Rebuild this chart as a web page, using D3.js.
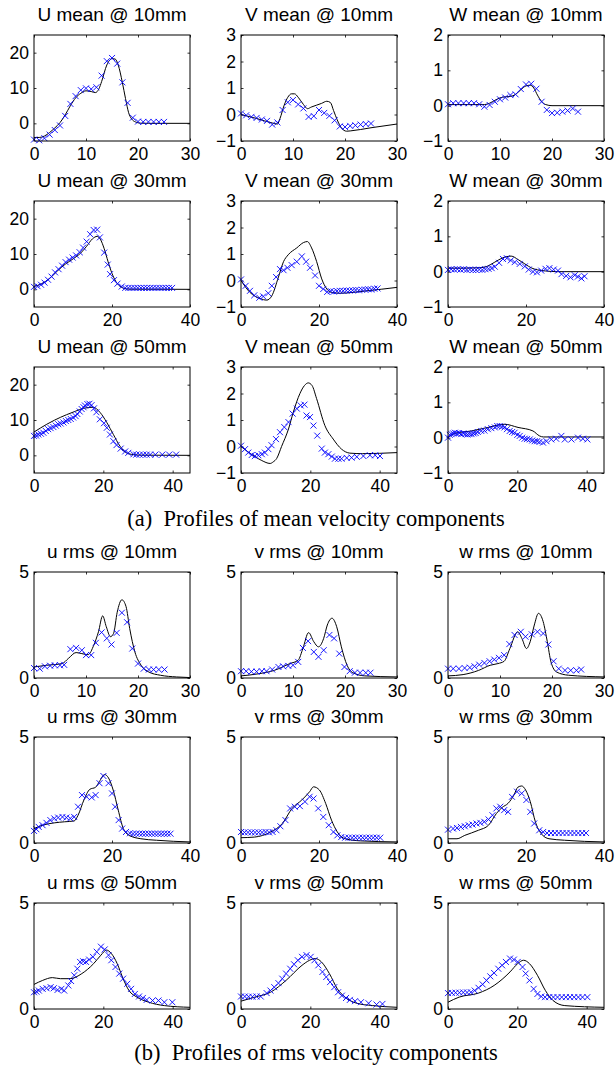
<!DOCTYPE html>
<html><head><meta charset="utf-8">
<script src="https://cdn.jsdelivr.net/npm/d3@7"></script>
<style>body{margin:0;background:#fff}svg{display:block}</style>
</head><body>
<script>
// ---------- data: [x (mm), value] ----------
const lineU10=[[0,-4],[1,-4],[2,-3.6],[3,-2.6],[4,-1.3],[5,0.2],[6,2.4],[7,5],[8,7.2],[9,8.5],[10,9.2],[11,9.0],[11.8,8.7],[12.5,9.8],[13,11.8],[14,16.5],[15,18.3],[15.6,18.2],[16.2,16.5],[17,11.5],[17.6,7],[18.2,3],[18.8,1.2],[19.5,0.4],[20.5,0.05],[22,0],[30,0]];
const expU10=[[0,-4.6],[1,-4.8],[2,-4.2],[3,-3.2],[4,-1.9],[5,-0.6],[6,2.1],[7,5.5],[8,7.7],[9,9.4],[10,9.9],[11,9.7],[12,10.2],[13,13.5],[14,17.6],[15,18.5],[16,16.9],[17,11.6],[18,5.8],[19,1.6],[20,0.5],[21,0.4],[22,0.4],[23,0.4],[24,0.4],[25,0.4]];
const lineV10=[[0,0],[3,-0.15],[6,-0.32],[7,-0.36],[7.5,-0.15],[8.3,0.35],[9,0.65],[9.7,0.78],[10.3,0.78],[11,0.65],[12,0.38],[12.8,0.22],[13.5,0.28],[14.5,0.35],[15.5,0.42],[16.5,0.5],[17.2,0.45],[17.8,0.15],[18.5,-0.2],[19.3,-0.5],[20.3,-0.63],[21,-0.62],[25,-0.5],[30,-0.36]];
const expV10=[[0,0.04],[1,-0.03],[2,-0.09],[3,-0.13],[4,-0.19],[5,-0.24],[6,-0.38],[7,-0.3],[8,0.17],[9,0.46],[10,0.55],[11,0.38],[12,0.23],[13,-0.09],[14,-0.06],[15,0.17],[16,0.06],[17,-0.05],[18,-0.22],[19,-0.45],[20,-0.47],[21,-0.43],[22,-0.41],[23,-0.38],[24,-0.36],[25,-0.34]];
const lineW10=[[0,0.03],[4,0.03],[7,0.03],[8,0.07],[9,0.15],[10,0.22],[11,0.25],[12,0.26],[13,0.32],[14,0.45],[15,0.56],[15.8,0.58],[16.5,0.5],[17.2,0.3],[18,0.12],[18.8,0.03],[20,0],[30,0]];
const expW10=[[0,0.04],[1,0.07],[2,0.07],[3,0.07],[4,0.07],[5,0.07],[6,0.04],[7,-0.03],[8,0.02],[9,0.11],[10,0.18],[11,0.23],[12,0.3],[13,0.32],[14,0.47],[15,0.6],[16,0.62],[17,0.48],[18,0.11],[19,-0.12],[20,-0.21],[21,-0.2],[22,-0.17],[23,-0.14],[24,-0.08],[25,-0.17]];

const lineU30=[[0,0.8],[2,1.6],[4,3.1],[6,5.2],[8,7.1],[10,8.6],[12,10.3],[13.5,12.2],[15,14.3],[16.2,15.0],[17,14.2],[18,11.5],[19,7.8],[20,4.5],[21,2.2],[22,0.9],[23,0.3],[24.5,0.05],[40,0]];
const expU30=[[0,0.7],[0.9,0.9],[1.8,1.3],[2.7,1.9],[3.6,2.7],[4.5,3.6],[5.4,4.8],[6.3,5.7],[7.2,6.7],[8.1,7.7],[9,8.4],[9.9,9.0],[10.8,9.6],[11.7,10.5],[12.6,11.8],[13.5,13.5],[14.4,15.6],[15.3,16.8],[16.2,16.9],[16.9,14.7],[18,10.4],[18.9,7.0],[19.5,4.3],[20.5,2.6],[21.4,1.6],[22.5,0.8],[23.4,0.4],[24.2,0.4],[25,0.4],[25.8,0.4],[26.6,0.4],[27.4,0.4],[28.2,0.4],[29,0.4],[29.8,0.4],[30.6,0.4],[31.4,0.4],[32.2,0.4],[33,0.4],[33.8,0.4],[34.6,0.4],[35.4,0.4]];
const lineV30=[[0,0],[2.3,-0.45],[4.9,-0.68],[6.6,-0.74],[7.9,-0.58],[9.6,0.13],[10.9,0.71],[12.1,0.97],[14.3,1.23],[16,1.43],[17,1.47],[18.1,1.23],[19.4,0.71],[20.7,0.06],[22,-0.32],[23.2,-0.45],[25.4,-0.48],[32.2,-0.39],[40,-0.26]];
const expV30=[[0,0.04],[1.2,-0.2],[2.3,-0.39],[3.4,-0.56],[4.7,-0.65],[5.7,-0.6],[7,-0.48],[7.9,-0.2],[9,0.13],[10,0.43],[10.9,0.39],[11.9,0.48],[13,0.58],[14.3,0.71],[15.6,0.91],[16.7,0.71],[17.7,0.48],[19,0.19],[20,-0.2],[21.1,-0.32],[22.1,-0.43],[23,-0.4],[23.8,-0.42],[24.6,-0.4],[25.4,-0.39],[26.2,-0.39],[27,-0.38],[27.8,-0.38],[28.6,-0.37],[29.4,-0.36],[30.2,-0.37],[31,-0.35],[31.8,-0.34],[32.6,-0.33],[33.4,-0.34],[34.2,-0.31],[35,-0.3]];
const lineW30=[[0,0.1],[4,0.1],[8,0.11],[10,0.15],[12,0.27],[14,0.39],[16.2,0.44],[18,0.34],[19.7,0.22],[21.5,0.1],[23,0.05],[25,0.02],[28,0],[40,0]];
const expW30=[[0,0.05],[0.8,0.07],[1.6,0.06],[2.4,0.07],[3.2,0.06],[4,0.07],[4.8,0.05],[5.6,0.06],[6.4,0.05],[7.2,0.05],[8,0.06],[8.8,0.05],[9.6,0.07],[10.4,0.08],[11.2,0.1],[12,0.14],[13.1,0.25],[14.1,0.36],[15.1,0.38],[16.1,0.32],[17.1,0.27],[18.4,0.22],[19.7,0.15],[20.7,0.06],[21.8,0],[22.8,-0.02],[23.9,0.03],[25,0.08],[26,0.1],[27.1,0.06],[28.2,0.03],[29.1,-0.07],[30.3,-0.12],[31.4,-0.16],[32.5,-0.1],[33.3,-0.14],[34.2,-0.19],[35,-0.13]];

const lineU50=[[0,6.6],[3.7,8.8],[6,10],[9.4,11.5],[12,12.5],[14.2,13.3],[17.1,13.6],[19,12.2],[21,9.3],[22.9,5.9],[24.8,2.6],[26.7,0.7],[28.7,0.2],[31,0.05],[45,0]];
const expU50=[[0,5.5],[0.6,5.6],[1.25,5.9],[2,6.1],[2.7,6.4],[3.4,6.9],[4.1,7.4],[4.8,7.7],[5.6,8],[6.3,8.4],[7,8.8],[7.7,9.0],[8.5,9.3],[9.2,9.7],[9.9,10],[10.6,10.3],[11.3,10.7],[12,11.1],[12.5,11.7],[13.2,12.4],[13.75,13.1],[14.3,13.6],[14.7,14.1],[15.4,14.5],[16,14.6],[16.6,14.2],[17.3,13.3],[18,12.2],[19,10.2],[20.2,9.1],[21,7.8],[21.9,5.9],[22.9,4.0],[23.8,2.9],[25,1.9],[26.3,1.1],[27.2,0.7],[28.7,0.3],[29.5,0.2],[30.5,0.2],[31.5,0.2],[32.5,0.2],[33.5,0.2],[35,0.2],[37,0.2],[39,0.2],[41,0.2]];
const lineV50=[[0,0],[2,-0.2],[4,-0.38],[6,-0.53],[8.4,-0.64],[9.3,-0.58],[10.3,-0.45],[11.7,0],[13.7,0.66],[15.1,1.3],[17,2.0],[18.3,2.3],[19.4,2.4],[20.5,2.3],[21.8,1.81],[24.2,0.79],[26.6,0.28],[29,-0.1],[31.4,-0.25],[35,-0.27],[45,-0.23]];
const expV50=[[0,0.03],[1.15,-0.1],[2.1,-0.23],[3.1,-0.32],[4,-0.36],[5,-0.33],[6,-0.29],[6.9,-0.23],[7.9,-0.1],[8.8,0.05],[10.1,0.28],[11.25,0.54],[12.5,0.73],[13.7,0.92],[14.9,1.24],[16.1,1.43],[17.2,1.55],[18.3,1.58],[18.9,1.17],[19.9,1.11],[20.9,0.79],[22,0.41],[23.3,-0.08],[24.2,-0.23],[25.2,-0.29],[26.2,-0.38],[27.1,-0.46],[28.1,-0.46],[29,-0.46],[30.5,-0.43],[31.9,-0.42],[33.4,-0.39],[35.3,-0.36],[37.2,-0.33],[38.7,-0.33],[40.1,-0.36]];
const lineW50=[[0,0],[1.9,0.12],[6.7,0.19],[11.5,0.29],[16.3,0.38],[20.2,0.29],[24.5,0.19],[26.4,0.05],[27.5,0.02],[45,0.02]];
const expW50=[[0,0],[0.5,0.08],[1,0.1],[1.5,0.12],[2,0.14],[2.6,0.12],[3.2,0.13],[3.8,0.1],[4.4,0.12],[5,0.1],[5.6,0.09],[6.2,0.1],[6.8,0.1],[7.4,0.12],[8,0.13],[8.6,0.16],[9.6,0.19],[10.5,0.2],[11.5,0.24],[12.5,0.27],[13.5,0.29],[14.2,0.33],[14.9,0.33],[15.6,0.31],[16.3,0.29],[17,0.24],[17.8,0.19],[18.5,0.16],[19.2,0.14],[20,0.08],[20.7,0.05],[21.4,0.0],[22.1,-0.03],[22.8,-0.04],[23.6,-0.05],[24.3,-0.08],[25,-0.1],[25.7,-0.1],[26.4,-0.12],[27.4,-0.14],[28.4,-0.1],[29.8,-0.05],[31.2,-0.03],[32.7,0.05],[33.7,-0.05],[35.6,-0.05],[37.5,0],[38.9,-0.03],[40.2,-0.05]];

const lineUr10=[[0,0.52],[2.4,0.6],[5.4,0.68],[6.6,0.92],[8.1,1.2],[9.2,1.15],[10.4,1.1],[11.5,1.55],[12.4,2.18],[13.2,2.93],[13.9,2.42],[14.7,1.95],[15.3,2.1],[16,3.1],[16.9,3.69],[17.7,3.37],[18.4,2.34],[19.4,1.23],[20.6,0.6],[22.1,0.28],[24.3,0.13],[27.4,0.05],[30,0.02]];
const expUr10=[[0,0.47],[1.1,0.44],[2.1,0.55],[3.1,0.58],[4,0.6],[5,0.6],[5.8,0.62],[7,1.36],[8.1,1.42],[9.2,1.31],[10,1.08],[11,1.08],[11.9,1.66],[13,2.15],[14,1.87],[14.9,1.58],[15.9,2.13],[16.9,3.08],[17.9,2.63],[18.9,1.39],[20,0.68],[21.1,0.44],[22.1,0.4],[23,0.4],[24,0.4],[25.1,0.4]];
const lineVr10=[[0,0.1],[3.4,0.2],[6.4,0.36],[9.4,0.68],[11,0.84],[11.9,1.39],[13,2.14],[14,1.71],[14.9,1.47],[15.9,1.87],[16.6,2.5],[17.5,2.82],[18.4,2.42],[19.3,1.47],[20.4,0.6],[21.5,0.25],[23.8,0.1],[30,0.05]];
const expVr10=[[0,0.32],[1,0.32],[2,0.3],[3,0.3],[4,0.32],[4.9,0.32],[6,0.4],[7.2,0.52],[8.1,0.55],[9.1,0.57],[10,0.6],[11,0.76],[11.9,1.42],[12.9,1.74],[14,1.23],[14.9,1.0],[15.9,1.31],[17,2.03],[17.9,1.87],[18.9,1.15],[19.9,0.52],[20.9,0.32],[21.9,0.25],[22.9,0.25],[24,0.25],[24.9,0.25]];
const lineWr10=[[0,0.1],[2.9,0.16],[5.9,0.36],[8.1,0.6],[9.6,0.68],[10.8,0.79],[11.9,1.39],[13.4,2.18],[14.2,1.87],[15.1,1.39],[15.8,1.71],[16.6,2.5],[17.4,3.05],[18.3,2.66],[19.1,1.71],[19.8,0.76],[20.9,0.28],[23.2,0.13],[30,0.05]];
const expWr10=[[0,0.44],[1,0.44],[2.1,0.44],[3.2,0.47],[4.2,0.49],[5.1,0.55],[6,0.63],[7,0.71],[8,0.79],[8.9,0.87],[9.8,0.95],[10.8,1.08],[11.8,1.6],[12.8,2.03],[14,2.18],[14.9,1.95],[16.1,2.06],[17.2,2.18],[18.3,2.1],[19.3,1.58],[20.3,0.79],[21.3,0.44],[22.5,0.36],[23.6,0.36],[24.7,0.36],[25.6,0.4]];

const lineUr30=[[0,0.68],[2.2,0.84],[5.2,0.95],[7.8,1.0],[10.3,1.04],[11.3,1.31],[12.8,2.03],[14.3,2.53],[15.8,2.63],[16.8,2.91],[18.1,3.23],[19.1,3.07],[20.3,2.5],[21.6,1.55],[22.9,0.68],[24.4,0.36],[27.4,0.2],[31.4,0.13],[40,0.05]];
const expUr30=[[0,0.57],[0.6,0.65],[1.2,0.76],[2.2,0.84],[3.2,0.95],[4.2,1.08],[5.2,1.16],[6.2,1.2],[7.3,1.23],[8.3,1.2],[9.3,1.16],[10.3,1.23],[11.3,1.71],[12.3,2.26],[13.5,2.18],[14.8,2.15],[15.8,2.26],[16.8,2.82],[17.8,3.16],[19.1,2.82],[20,2.34],[20.8,1.71],[21.7,1.08],[22.6,0.68],[23.6,0.52],[24.6,0.46],[25.4,0.44],[26.2,0.44],[27,0.44],[27.8,0.44],[28.6,0.44],[29.4,0.44],[30.2,0.44],[31,0.44],[31.8,0.44],[32.6,0.44],[33.4,0.44],[34.2,0.44],[35,0.44]];
const lineVr30=[[0,0.25],[3.5,0.28],[7.6,0.52],[10.6,0.92],[13.1,1.63],[15.6,2.03],[17.6,2.42],[18.6,2.65],[20.1,2.5],[21.7,1.87],[23.2,1.08],[24.7,0.52],[26.7,0.2],[30.7,0.1],[40,0.05]];
const expVr30=[[0,0.52],[0.9,0.5],[1.8,0.5],[2.7,0.5],[3.6,0.5],[4.5,0.5],[5.4,0.5],[6.3,0.52],[7.2,0.5],[8.1,0.52],[9.1,0.6],[10.1,0.79],[11.4,1.08],[12.6,1.63],[13.8,1.71],[15.1,1.74],[16.4,1.95],[17.6,2.18],[18.6,2.1],[19.8,1.63],[21.1,1.23],[22.5,0.84],[23.7,0.52],[24.7,0.36],[25.7,0.28],[26.7,0.25],[27.6,0.25],[28.5,0.25],[29.4,0.25],[30.3,0.25],[31.2,0.25],[32.1,0.25],[33,0.25],[33.9,0.25],[34.8,0.25],[35.7,0.25]];
const lineWr30=[[0,0.2],[2.3,0.2],[4.3,0.36],[7.8,0.6],[10.4,0.84],[12.4,1.39],[13.9,1.68],[15.4,1.87],[16.9,2.26],[17.9,2.63],[18.9,2.69],[19.9,2.5],[21.1,1.95],[22.4,1.0],[23.9,0.44],[25.9,0.2],[29.9,0.13],[40,0.05]];
const expWr30=[[0,0.63],[1.3,0.68],[2.3,0.71],[3.3,0.76],[4.3,0.79],[5.3,0.84],[6.3,0.87],[7.3,0.92],[8.3,0.95],[9.3,1.0],[10.4,1.11],[11.4,1.31],[12.4,1.63],[13.4,1.71],[14.4,1.55],[15.4,1.47],[16.4,2.18],[17.7,2.42],[18.9,2.34],[20.1,2.03],[21.1,1.47],[22.1,0.92],[23.4,0.6],[24.4,0.52],[25.4,0.47],[26.4,0.47],[27.4,0.47],[28.4,0.47],[29.4,0.47],[30.4,0.47],[31.4,0.47],[32.4,0.47],[33.4,0.47],[34.4,0.47],[35.4,0.47]];

const lineUr50=[[0,1.16],[2.5,1.35],[5.3,1.48],[7.6,1.43],[10.4,1.43],[13.8,1.67],[17.2,2.14],[19.3,2.54],[20.9,2.78],[22.3,2.62],[24,2.14],[25.7,1.43],[27.4,0.87],[29.7,0.56],[33.1,0.32],[37.6,0.16],[45,0.08]];
const expUr50=[[0,0.79],[0.7,0.82],[1.4,0.87],[2.5,0.95],[3.6,0.98],[4.8,1.03],[5.7,0.98],[6.8,0.9],[7.9,0.95],[8.7,0.87],[9.9,1.11],[10.7,1.32],[11.6,1.59],[12.5,1.9],[13.3,2.22],[14.2,2.25],[15,2.22],[15.9,2.33],[17,2.46],[18.1,2.7],[19.3,2.94],[20.4,2.81],[21.5,2.54],[22.3,2.3],[23.5,1.98],[24.6,1.67],[25.7,1.43],[26.9,1.19],[28,0.95],[29.1,0.71],[30.3,0.59],[31.4,0.52],[32.5,0.43],[34.2,0.4],[35.9,0.4],[37.6,0.32],[39.9,0.32]];
const lineVr50=[[0,0.37],[4,0.56],[8.5,0.79],[13,1.35],[17.6,2.06],[19.8,2.3],[21.5,2.38],[23.2,2.22],[25.5,1.67],[27.8,0.95],[30,0.56],[33.4,0.27],[38,0.16],[45,0.08]];
const expVr50=[[0,0.59],[1.1,0.59],[2.2,0.58],[3.3,0.58],[4.5,0.59],[5.7,0.59],[7.4,0.75],[8.5,0.87],[9.6,1.03],[10.8,1.22],[11.9,1.43],[13,1.67],[14.2,1.9],[15.3,2.11],[16.4,2.3],[17.6,2.46],[18.9,2.54],[20.1,2.46],[21.2,2.3],[22.3,2.06],[23.5,1.75],[24.6,1.51],[25.7,1.27],[26.9,1.03],[28,0.79],[29.1,0.63],[30.3,0.52],[31.4,0.43],[32.9,0.37],[34.6,0.32],[36.8,0.27],[39.1,0.21],[40.8,0.24]];
const lineWr50=[[0,0.32],[3.2,0.56],[8.8,0.75],[13.3,1.11],[17.9,1.75],[20.1,2.14],[21.8,2.3],[23.5,2.14],[25.8,1.59],[28.1,0.87],[30.3,0.4],[33.7,0.16],[45,0.08]];
const expWr50=[[0,0.75],[1.1,0.76],[2.2,0.77],[3.3,0.77],[4.4,0.78],[5.5,0.78],[6.6,0.79],[7.7,0.87],[8.8,1.0],[10,1.16],[11.1,1.35],[12.2,1.54],[13.3,1.7],[14.5,1.9],[15.6,2.06],[16.7,2.22],[17.9,2.38],[19,2.33],[20.1,2.22],[21.5,1.98],[22.4,1.67],[23.5,1.35],[24.7,0.95],[25.8,0.71],[26.9,0.59],[28,0.56],[29.2,0.56],[30.4,0.56],[31.6,0.56],[32.8,0.56],[34,0.56],[35.2,0.56],[36.4,0.56],[37.6,0.56],[38.8,0.56],[40.2,0.56]];

// ---------- tick labels & domains ----------
const xDom30=[0,30], xTicks30=[0,10,20,30];
const xDom40=[0,40], xTicks40=[0,20,40];
const xDom45=[0,45], xTicks45=[0,20,40];
const yDomU=[-5,25], yTicksU=[0,10,20];
const yDomV=[-1,3], yTicksV=[-1,0,1,2,3];
const yDomW=[-1,2], yTicksW=[-1,0,1,2];
const yDomR=[0,5], yTicksR=[0,5];
const titles=["U mean @ 10mm","V mean @ 10mm","W mean @ 10mm","U mean @ 30mm","V mean @ 30mm","W mean @ 30mm","U mean @ 50mm","V mean @ 50mm","W mean @ 50mm",
  "u rms @ 10mm","v rms @ 10mm","w rms @ 10mm","u rms @ 30mm","v rms @ 30mm","w rms @ 30mm","u rms @ 50mm","v rms @ 50mm","w rms @ 50mm"];
const captions=["(a)  Profiles of mean velocity components","(b)  Profiles of rms velocity components"];

const lines=[lineU10,lineV10,lineW10,lineU30,lineV30,lineW30,lineU50,lineV50,lineW50,lineUr10,lineVr10,lineWr10,lineUr30,lineVr30,lineWr30,lineUr50,lineVr50,lineWr50];
const exps=[expU10,expV10,expW10,expU30,expV30,expW30,expU50,expV50,expW50,expUr10,expVr10,expWr10,expUr30,expVr30,expWr30,expUr50,expVr50,expWr50];
const xDoms=[xDom30,xDom40,xDom45,xDom30,xDom40,xDom45], xTks=[xTicks30,xTicks40,xTicks45,xTicks30,xTicks40,xTicks45];
const yDoms=[yDomU,yDomV,yDomW], yTks=[yTicksU,yTicksV,yTicksW];

// ---------- layout ----------
const W=615,H=1067;
const colX=[34,241,448], boxW=156;
const rowY=[35,201,367,572,737,903], boxH=106;
const svg=d3.select("body").append("svg").attr("width",W).attr("height",H);
const sans="'Liberation Sans', Arial, Helvetica, sans-serif";
const fmt=d=>d<0?"\u2212"+Math.abs(d):String(d);

titles.forEach((t,i)=>{
  const row=Math.floor(i/3), col=i%3;
  const x0=colX[col], y0=rowY[row];
  const rms=row>=3;
  const yd=rms?yDomR:yDoms[col], yt=rms?yTicksR:yTks[col];
  const x=d3.scaleLinear().domain(xDoms[row]).range([x0,x0+boxW]);
  const y=d3.scaleLinear().domain(yd).range([y0+boxH,y0]);
  const g=svg.append("g");

  const style=(sel)=>{sel.select(".domain").remove();
    sel.selectAll("line").attr("stroke","#000").attr("stroke-width",0.8);
    sel.selectAll("text").attr("font-family",sans).attr("font-size",17.5).attr("fill","#000");};
  g.append("g").attr("transform",`translate(0,${y0+boxH})`)
    .call(d3.axisBottom(x).tickValues(xTks[row]).tickSize(-2.5).tickPadding(7).tickFormat(fmt)).call(style);
  g.append("g").attr("transform",`translate(0,${y0})`)
    .call(d3.axisTop(x).tickValues(xTks[row]).tickSize(-2.5).tickFormat("")).call(style);
  g.append("g").attr("transform",`translate(${x0},0)`)
    .call(d3.axisLeft(y).tickValues(yt).tickSize(-2.5).tickPadding(5).tickFormat(fmt)).call(style);
  g.append("g").attr("transform",`translate(${x0+boxW},0)`)
    .call(d3.axisRight(y).tickValues(yt).tickSize(-2.5).tickFormat("")).call(style);

  g.append("path").datum(lines[i])
    .attr("d",d3.line().x(d=>x(d[0])).y(d=>y(d[1])).curve(d3.curveMonotoneX))
    .attr("fill","none").attr("stroke","#000").attr("stroke-width",1);
  const s=3;
  g.append("g").selectAll("path").data(exps[i]).join("path")
    .attr("d",d=>{const cx=x(d[0]),cy=y(d[1]);return `M${cx-s},${cy-s}L${cx+s},${cy+s}M${cx-s},${cy+s}L${cx+s},${cy-s}`;})
    .attr("stroke","#0000ff").attr("stroke-width",0.9).attr("fill","none");

  g.append("rect").attr("x",x0).attr("y",y0).attr("width",boxW).attr("height",boxH)
    .attr("fill","none").attr("stroke","#000").attr("stroke-width",1);

  g.append("text").attr("x",x0+boxW/2).attr("y",y0-14).attr("text-anchor","middle")
    .attr("font-family",sans).attr("font-size",19).attr("fill","#000").text(t);
});

const capY=[526,1060];
captions.forEach((c,i)=>{
  svg.append("text").attr("x",316).attr("y",capY[i]).attr("text-anchor","middle")
    .attr("font-family","'Liberation Serif','Times New Roman',serif").attr("font-size",22.5)
    .style("white-space","pre").attr("fill","#000").text(c);
});
</script>
</body></html>
